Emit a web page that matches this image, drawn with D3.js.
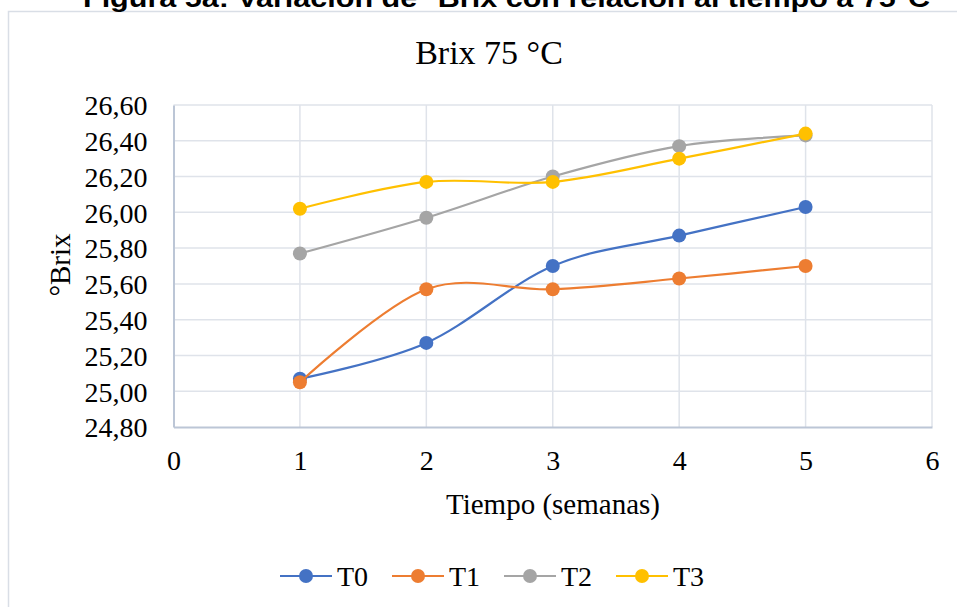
<!DOCTYPE html>
<html>
<head>
<meta charset="utf-8">
<script src="https://cdn.jsdelivr.net/npm/d3@7"></script>
<style>
  body { margin: 0; background: #fff; }
  svg { display: block; }
</style>
</head>
<body>
<div id="chart"></div>
<script>
// data
const weeks = [1, 2, 3, 4, 5];
const seriesNames = ["T0", "T1", "T2", "T3"];
const t0 = [25.07, 25.27, 25.70, 25.87, 26.03];
const t1 = [25.05, 25.57, 25.57, 25.63, 25.70];
const t2 = [25.77, 25.97, 26.20, 26.37, 26.43];
const t3 = [26.02, 26.17, 26.17, 26.30, 26.44];
const xTicks = [0, 1, 2, 3, 4, 5, 6];
const yTicks = [24.8, 25.0, 25.2, 25.4, 25.6, 25.8, 26.0, 26.2, 26.4, 26.6];
const colors = ["#4472C4", "#ED7D31", "#A5A5A5", "#FFC000"];

const width = 957, height = 607;
const plot = {left: 173.5, right: 932, top: 105, bottom: 427};

const svg = d3.select("#chart").append("svg")
    .attr("width", width).attr("height", height);

// outer chart frame
svg.append("rect")
    .attr("x", 8.5).attr("y", 11.5)
    .attr("width", width + 10).attr("height", height + 10)
    .attr("fill", "#fff").attr("stroke", "#d9dee6").attr("stroke-width", 1.5);

// document caption, clipped at the top like in the source
svg.append("text")
    .attr("x", 83).attr("y", 7)
    .attr("textLength", 847).attr("lengthAdjust", "spacingAndGlyphs")
    .attr("font-family", "Liberation Sans, Arial, sans-serif")
    .attr("font-weight", "bold").attr("font-size", 25)
    .attr("fill", "#000")
    .text("Figura 5a: Variación de °Brix con relación al tiempo a 75°C");

const x = d3.scaleLinear().domain([0, 6]).range([plot.left, plot.right]);
const y = d3.scaleLinear().domain([24.8, 26.6]).range([plot.bottom, plot.top]);

const serif = "Liberation Serif, Times New Roman, serif";

// grid
svg.append("g").selectAll("line").data(yTicks.slice(1)).join("line")
    .attr("x1", plot.left).attr("x2", plot.right)
    .attr("y1", d => y(d)).attr("y2", d => y(d))
    .attr("stroke", "#dfe3ea").attr("stroke-width", 1.5);
svg.append("g").selectAll("line").data(xTicks.slice(1)).join("line")
    .attr("x1", d => x(d)).attr("x2", d => x(d))
    .attr("y1", plot.top).attr("y2", plot.bottom)
    .attr("stroke", "#dfe3ea").attr("stroke-width", 1.5);

// axes
const fmt = d => d3.format(".2f")(d).replace(".", ",");
const yAxis = svg.append("g")
    .attr("transform", `translate(${plot.left},0)`)
    .call(d3.axisLeft(y).tickValues(yTicks).tickFormat(fmt).tickSize(0).tickPadding(26));
const xAxis = svg.append("g")
    .attr("transform", `translate(0,${plot.bottom})`)
    .call(d3.axisBottom(x).tickValues(xTicks).tickFormat(d3.format("d")).tickSize(0).tickPadding(23));
[yAxis, xAxis].forEach(g => {
    g.select(".domain").attr("stroke", "#bcc6d6").attr("stroke-width", 2);
    g.selectAll("text").attr("font-family", serif).attr("font-size", 28).attr("fill", "#000");
});
yAxis.selectAll("text").attr("dy", "0.35em");

// titles
svg.append("text")
    .attr("x", 489).attr("y", 64).attr("text-anchor", "middle")
    .attr("font-family", serif).attr("font-size", 34).text("Brix 75 °C");
svg.append("text")
    .attr("x", 553).attr("y", 514).attr("text-anchor", "middle")
    .attr("font-family", serif).attr("font-size", 29).text("Tiempo (semanas)");
svg.append("text")
    .attr("transform", "translate(70,265) rotate(-90)").attr("text-anchor", "middle")
    .attr("font-family", serif).attr("font-size", 29).text("°Brix");

// series
const allSeries = [t0, t1, t2, t3].map((vals, i) => ({
    name: seriesNames[i], color: colors[i],
    points: weeks.map((w, j) => ({w: w, v: vals[j]}))
}));

const line = d3.line()
    .x(d => x(d.w)).y(d => y(d.v))
    .curve(d3.curveCardinal.tension(0));

const sg = svg.append("g").selectAll("g").data(allSeries).join("g");
sg.append("path")
    .attr("d", d => line(d.points))
    .attr("fill", "none").attr("stroke", d => d.color).attr("stroke-width", 2.2);
sg.selectAll("circle").data(d => d.points.map(p => ({...p, color: d.color}))).join("circle")
    .attr("cx", d => x(d.w)).attr("cy", d => y(d.v)).attr("r", 7)
    .attr("fill", d => d.color);

// legend
const lg = svg.append("g").selectAll("g").data(allSeries).join("g")
    .attr("transform", (d, i) => `translate(${280 + i * 112},576)`);
lg.append("line").attr("x1", 0).attr("x2", 52)
    .attr("stroke", d => d.color).attr("stroke-width", 2.2);
lg.append("circle").attr("cx", 26).attr("r", 7).attr("fill", d => d.color);
lg.append("text").attr("x", 57).attr("dy", "0.35em")
    .attr("font-family", serif).attr("font-size", 28).text(d => d.name);
</script>
</body>
</html>
